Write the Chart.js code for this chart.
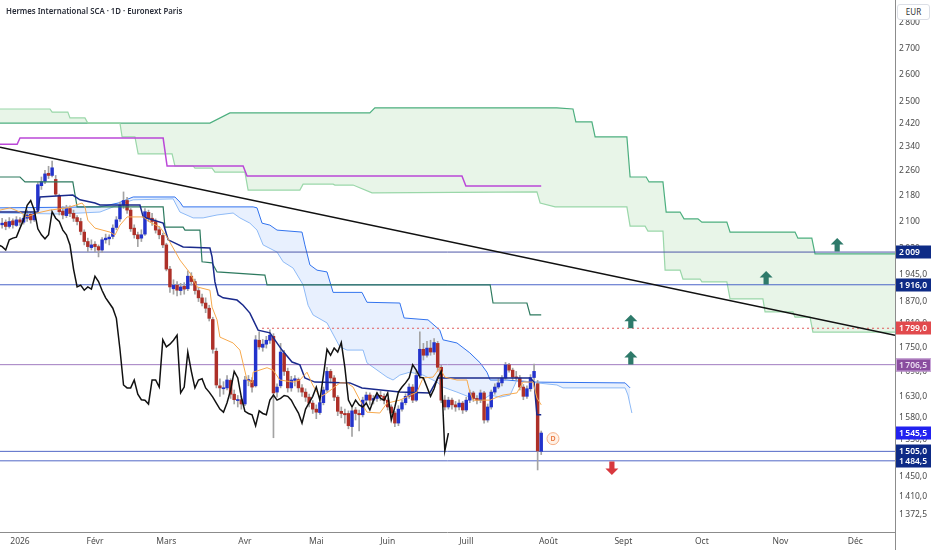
<!DOCTYPE html>
<html>
<head>
<meta charset="utf-8">
<script src="https://cdn.jsdelivr.net/npm/chart.js@4.4.1/dist/chart.umd.min.js"></script>
<style>
html, body { margin: 0; padding: 0; background: #fff; }
#wrap { position: relative; width: 932px; height: 550px; overflow: hidden; }
#title { position: absolute; left: 6px; top: 4px; font: 600 9.5px 'Noto Sans', sans-serif; color: #2a2e39;
  transform: scaleX(0.82); transform-origin: left top; white-space: nowrap; }
#cur { position: absolute; left: 897px; top: 4px; width: 31px; height: 14px; border: 1px solid #dcdfe6; border-radius: 3px;
  font: 8px 'Noto Sans', sans-serif; color: #333; text-align: center; line-height: 14px; background: #fff; }
</style>
</head>
<body>
<div id="wrap">
  <canvas id="c" width="932" height="550"></canvas>
  <div id="title">Hermes International SCA · 1D · Euronext Paris</div>
  <div id="cur">EUR</div>
</div>
<script>
// daily bars, x = trading-session index (0 = 2 Jan 2026)
var firstBar = -5;
var opens = [
  2090,2098,2085,2102,2088,2105,2098,2110,2122,2105,
  2135,2212,2226,2252,2245,2232,2180,2132,2118,2140,
  2125,2112,2100,2068,2040,2022,2032,2025,2015,2045,
  2048,2055,2082,2108,2150,2165,2135,2080,2060,2050,
  2062,2128,2110,2100,2075,2058,2030,1960,1905,1915,
  1900,1912,1905,1940,1925,1900,1880,1866,1852,1822,
  1740,1655,1648,1650,1668,1635,1620,1622,1612,1668,
  1668,1655,1768,1750,1758,1768,1778,1640,1655,1735,
  1690,1650,1668,1670,1650,1640,1628,1614,1600,1592,
  1615,1645,1690,1674,1628,1595,1590,1590,1560,1598,
  1590,1587,1621,1633,1621,1625,1632,1630,1621,1605,
  1591,1568,1600,1615,1630,1652,1621,1680,1745,1730,
  1748,1738,1760,1700,1621,1605,1621,1610,1605,1614,
  1598,1621,1638,1625,1621,1638,1575,1605,1640,1652,
  1662,1674,1706,1693,1676,1674,1652,1630,1648,1675,
  1660,1505
];
var highs = [
  2110,2105,2112,2108,2115,2112,2120,2135,2128,2140,
  2222,2240,2262,2275,2292,2245,2185,2145,2150,2148,
  2135,2118,2110,2075,2050,2045,2040,2030,2052,2062,
  2060,2090,2115,2160,2192,2175,2140,2090,2068,2075,
  2140,2135,2125,2108,2085,2065,2035,1968,1930,1925,
  1920,1922,1955,1950,1932,1908,1890,1880,1860,1828,
  1748,1672,1665,1680,1672,1645,1632,1630,1678,1680,
  1675,1780,1790,1770,1778,1795,1785,1660,1760,1742,
  1698,1678,1680,1674,1658,1648,1635,1620,1610,1625,
  1652,1700,1695,1680,1632,1605,1600,1596,1602,1604,
  1598,1628,1640,1638,1632,1640,1642,1636,1625,1610,
  1595,1608,1622,1636,1660,1658,1690,1790,1760,1765,
  1768,1772,1765,1705,1632,1628,1626,1618,1622,1618,
  1628,1645,1642,1632,1645,1642,1612,1645,1660,1672,
  1680,1712,1710,1698,1690,1680,1658,1655,1682,1708,
  1668,1550
];
var lows = [
  2080,2075,2080,2080,2085,2088,2092,2100,2095,2100,
  2130,2200,2218,2235,2240,2180,2120,2108,2112,2115,
  2100,2090,2060,2030,2010,2015,2010,1995,2008,2035,
  2030,2048,2075,2100,2140,2125,2070,2050,2025,2040,
  2058,2100,2088,2065,2048,2022,1955,1895,1890,1885,
  1888,1890,1900,1915,1890,1870,1858,1840,1818,1735,
  1650,1630,1635,1645,1625,1612,1605,1600,1608,1655,
  1640,1652,1745,1740,1748,1760,1535,1628,1650,1680,
  1640,1642,1655,1640,1630,1618,1605,1590,1578,1588,
  1610,1640,1662,1620,1585,1580,1568,1555,1538,1575,
  1550,1582,1612,1610,1612,1618,1620,1612,1598,1582,
  1560,1562,1595,1610,1625,1615,1618,1672,1718,1725,
  1730,1732,1690,1615,1598,1600,1600,1595,1598,1590,
  1594,1615,1618,1612,1615,1568,1570,1600,1635,1648,
  1655,1670,1688,1670,1668,1645,1622,1625,1642,1668,
  1465,1498
];
var closes = [
  2095,2085,2100,2090,2105,2098,2110,2120,2105,2125,
  2215,2225,2250,2245,2270,2185,2130,2120,2140,2125,
  2110,2100,2070,2040,2025,2030,2025,2015,2045,2050,
  2053,2080,2105,2150,2165,2135,2078,2060,2048,2060,
  2130,2110,2100,2074,2060,2030,1960,1910,1915,1901,
  1910,1904,1940,1925,1900,1880,1866,1852,1825,1745,
  1657,1650,1650,1669,1635,1622,1621,1612,1669,1669,
  1652,1769,1751,1758,1768,1781,1638,1652,1738,1690,
  1650,1669,1672,1650,1640,1628,1614,1600,1593,1615,
  1645,1690,1674,1628,1595,1590,1587,1562,1596,1590,
  1587,1621,1633,1621,1625,1632,1630,1621,1605,1591,
  1568,1600,1615,1630,1652,1621,1680,1745,1730,1748,
  1738,1762,1700,1621,1605,1621,1610,1605,1614,1598,
  1621,1638,1625,1621,1638,1575,1605,1640,1652,1662,
  1674,1706,1693,1676,1674,1652,1630,1648,1675,1690,
  1506,1545.5
];
var chikouShift = 26;

// ichimoku lines: [session, price]
var tenkan = [[-5.6,2135],[-2.8,2142],[0,2129],[2,2114],[4.8,2126],[8.4,2135],[13.2,2142],[17.4,2157],[18.2,2145],
  [19,2104],[21,2080],[25.2,2068],[26.6,2059],[28,2089],[30,2114],[34.5,2114],[36.4,2098],[39.2,2083],[41.2,2053],
  [44.8,1986],[47.6,1949],[49.6,1910],[53.2,1901],[53.8,1855],[55.2,1821],[56,1776],[59.7,1761],[61.6,1743],
  [63.6,1669],[65,1662],[65.3,1688],[69.2,1699],[70.9,1693],[72.8,1669],[76.5,1664],[78.4,1669],[80.4,1688],
  [82,1657],[84,1628],[86,1638],[89.6,1662],[91.6,1662],[93.3,1652],[95.2,1621],[97.2,1593],[100.8,1591],
  [102.8,1614],[106.4,1621],[111.2,1640],[112.9,1674],[115.7,1676],[117.6,1699],[119,1676],[122.4,1669],
  [125.2,1669],[126,1640],[126.9,1621],[131.7,1621],[133.6,1628],[135.3,1633],[139.2,1638],[140.9,1664],
  [143.7,1664],[144.8,1626],[146,1610]];
var kijun = [[-5.6,2129],[5,2129],[5.6,2176],[14.8,2182],[16.8,2167],[21,2157],[22.4,2151],[33.6,2151],[34.5,2114],
  [40.1,2095],[41.5,2045],[45.7,2024],[53.2,2021],[53.8,1995],[54.6,1924],[55.5,1888],[56.9,1880],[60.8,1874],
  [62.5,1860],[64.4,1839],[66.7,1794],[70,1787],[73.4,1743],[76.2,1713],[78.4,1706],[79.8,1674],[82.6,1664],
  [92.4,1662],[95.8,1650],[106.4,1640],[114.8,1638],[117.1,1674],[142.9,1674],[144,1664],[144.8,1587],[146,1587]];
var cloudA = [[-5.6,2142],[22.4,2145],[27.5,2157],[31.7,2176],[43.4,2176],[44.8,2160],[45.7,2145],[65.3,2145],
  [66.4,2142],[67.8,2095],[70,2089],[72,2074],[79,2068],[79.8,2030],[81.2,1972],[83.2,1957],[86,1952],[87.7,1895],
  [95.8,1895],[97.2,1868],[106.4,1866],[107.6,1826],[114.3,1821],[117.6,1794],[118.5,1769],[122.4,1761],[126,1736],
  [128.9,1711],[130.8,1688],[131.7,1669],[136.4,1669],[142.9,1664],[169.5,1662],[170.9,1650]];
var cloudB = [[-5.6,2126],[11.2,2123],[22.4,2129],[27.5,2151],[31.7,2167],[42.9,2170],[44.8,2129],[48.5,2111],
  [51.3,2111],[55.2,2120],[59.7,2126],[61.6,2111],[64.4,2095],[66.4,2074],[68.1,2030],[72,2009],[73.7,1981],
  [76.5,1963],[79.3,1916],[80.7,1860],[82.1,1834],[86,1813],[89.6,1751],[91.6,1743],[96.1,1743],[97.2,1711],
  [102.8,1676],[104.5,1669],[106.4,1681],[109.2,1688],[112.9,1681],[116.8,1664],[118.5,1652],[122.4,1640],
  [126,1628],[129.4,1621],[131.7,1633],[134.5,1628],[137.3,1633],[139.2,1669],[144.8,1662],[150.4,1657],
  [152.1,1650],[169.5,1650],[170.3,1633],[171.4,1591]];
// weekly cloud and lines
var weekA = [[-5.6,2422],[53.2,2422],[58.8,2458],[98,2458],[99.4,2476],[150.4,2476],[154.9,2472],[155.7,2426],
  [160.2,2426],[161.1,2374],[170,2374],[170.9,2240],[175.4,2240],[176.2,2224],[180.1,2224],[181,2129],[184.9,2129],
  [186,2108],[189.9,2108],[191,2098],[198,2098],[198.9,2068],[217.1,2068],[217.9,2050],[221.8,2050],[222.7,2004],
  [245.1,2004]];
var weekB = [[-5.6,2472],[8.4,2472],[9,2461],[13.4,2461],[14,2440],[18.2,2440],[19,2422],[28,2422],[28.6,2374],
  [32.2,2374],[33.1,2316],[42.6,2316],[43.4,2276],[48.5,2276],[49,2269],[53.8,2269],[54.6,2256],[63,2256],
  [63.9,2198],[78.4,2198],[79.3,2217],[87.7,2217],[88.2,2214],[93.3,2214],[98.6,2189],[144.8,2192],[145.7,2157],
  [149.9,2145],[170,2145],[170.9,2086],[175.1,2086],[175.9,2071],[180.1,2071],[180.7,1957],[184.9,1957],
  [185.7,1932],[190.5,1932],[191,1924],[198,1924],[198.9,1877],[208.1,1877],[208.7,1842],[216.5,1842],
  [217.1,1828],[221.3,1828],[222.1,1789],[245.1,1789]];
var weekKijun = [[-5.6,2240],[0,2240],[1.4,2224],[14.8,2224],[16,2145],[40.1,2145],[40.6,2083],[45.7,2083],
  [46.2,2074],[50.4,2074],[51,1981],[53.8,1978],[55.2,1952],[68.6,1943],[69.2,1916],[131.7,1916],[132.5,1866],
  [142,1866],[142.9,1834],[146,1834]];
var purpleLine = [[-5.6,2349],[-0.8,2349],[0,2370],[40.1,2370],[41.2,2276],[62.5,2276],[63.6,2243],[123.8,2243],
  [124.9,2211],[146,2211]];

// drawings
var trendLine = [[-5.6,2339],[245.1,1781]];
var levelPrices = [2009, 1916, 1706.5, 1505, 1484.5];
var levelColors = ['#4e58a8', '#4a64c8', '#a17cc0', '#5268c6', '#5268c6'];
var alertPrice = 1799, alertFrom = 67.8;
var upArrowBars = [171.1, 171.1, 209, 228.9];
var upArrowPrices = [1816, 1723, 1935, 2030];
var downArrowBars = [165.8];
var downArrowPrices = [1469];
var divBar = 149.3, divPrice = 1533;

// axes
var xMin = -5.6, xMax = 245.1, yMin = 1339, yMax = 2895;
var monthStarts = [0, 21, 41, 63, 83, 103, 125, 148, 169, 191, 213, 234];
var monthLabels = ['2026', 'Févr', 'Mars', 'Avr', 'Mai', 'Juin', 'Juill', 'Août', 'Sept', 'Oct', 'Nov', 'Déc'];
var yTicks = [2800, 2700, 2600, 2500, 2420, 2340, 2260, 2180, 2100, 2020, 1945, 1870, 1810, 1750, 1690, 1630,
  1580, 1530, 1450, 1410, 1372.5];
var tagPrices = [2009, 1916, 1799, 1706.5, 1545.5, 1505, 1484.5];
var tagColors = ['#0e2b86', '#0e2b86', '#e14a4d', '#8a4d9f', '#2222f0', '#0e2b86', '#0e2b86'];

var RED = '#ad3028', BLUE = '#2333cc', WICK = '#a3a3a3';

function fmt(v) {
	if (v >= 2000) return String(Math.round(v)).replace(/^(\d)(\d{3})$/, '$1\u2009$2');
	return v.toFixed(1).replace('.', ',').replace(/^(\d)(\d{3})/, '$1\u2009$2');
}

function pts(pairs) {
	return pairs.map(function(p){ return {x: p[0], y: p[1]}; });
}

function lineDs(pairs, color, width, order, extra) {
	var ds = {type: 'line', data: pts(pairs), borderColor: color, borderWidth: width, pointRadius: 0,
		fill: false, tension: 0, order: order};
	for (var k in (extra || {})) ds[k] = extra[k];
	return ds;
}

var bodies = [], wicks = [], candleColors = [], chikou = [];
closes.map(function(c, i){
	var x = firstBar + i;
	bodies.push({x: x, y: [opens[i], c]});
	wicks.push({x: x, y: [lows[i], highs[i]]});
	candleColors.push(c >= opens[i] ? BLUE : RED);
	chikou.push({x: x - chikouShift, y: c});
});

var datasets = [
	lineDs(weekA, '#4caf7f', 1.2, 31, {fill: '+1', backgroundColor: 'rgba(76,175,80,0.13)'}),
	lineDs(weekB, '#9ad7a9', 1.2, 30),
	lineDs(cloudA, '#3273ee', 1, 29, {fill: '+1', backgroundColor: 'rgba(66,133,244,0.12)'}),
	lineDs(cloudB, '#8ebaf6', 1, 28)
];
levelPrices.map(function(p, i){
	datasets.push(lineDs([[xMin, p], [xMax, p]], levelColors[i], 1, 25));
});
datasets.push(lineDs([[alertFrom, alertPrice], [xMax, alertPrice]], '#e05a5a', 1, 25, {borderDash: [2, 3]}));
datasets.push(lineDs(trendLine, '#111111', 1.5, 24));
datasets.push({type: 'bar', data: wicks, backgroundColor: WICK, barThickness: 1, grouped: false, order: 20});
datasets.push({type: 'bar', data: bodies, backgroundColor: candleColors, barThickness: 2.8, grouped: false,
	minBarLength: 1, order: 19});
datasets.push(lineDs(weekKijun, '#2d7a5f', 1.2, 10));
datasets.push(lineDs(purpleLine, '#bb48d8', 1.5, 9));
datasets.push(lineDs(kijun, '#1a2a8c', 1.5, 8));
datasets.push(lineDs(tenkan, '#f7a94d', 1, 7));
datasets.push({type: 'line', data: chikou, borderColor: '#111111', borderWidth: 1.5, pointRadius: 0, fill: false,
	tension: 0, order: 6});

function drawArrow(ctx, cx, cy, dir, color) {
	ctx.fillStyle = color;
	ctx.beginPath();
	ctx.moveTo(cx, cy - 7 * dir);
	ctx.lineTo(cx + 6.5, cy - 0.5 * dir);
	ctx.lineTo(cx + 2.6, cy - 0.5 * dir);
	ctx.lineTo(cx + 2.6, cy + 6.5 * dir);
	ctx.lineTo(cx - 2.6, cy + 6.5 * dir);
	ctx.lineTo(cx - 2.6, cy - 0.5 * dir);
	ctx.lineTo(cx - 6.5, cy - 0.5 * dir);
	ctx.closePath();
	ctx.fill();
}

var overlay = {
	id: 'overlay',
	afterDatasetsDraw: function(chart) {
		var ctx = chart.ctx, x = chart.scales.x, y = chart.scales.y;
		ctx.save();
		upArrowBars.map(function(b, i){
			drawArrow(ctx, x.getPixelForValue(b), y.getPixelForValue(upArrowPrices[i]), 1, '#2e7a6a');
		});
		downArrowBars.map(function(b, i){
			drawArrow(ctx, x.getPixelForValue(b), y.getPixelForValue(downArrowPrices[i]), -1, '#d8383e');
		});
		// dividend marker
		var dx = x.getPixelForValue(divBar), dy = y.getPixelForValue(divPrice);
		ctx.beginPath();
		ctx.arc(dx, dy, 6, 0, Math.PI * 2);
		ctx.fillStyle = '#fff1e6';
		ctx.fill();
		ctx.strokeStyle = '#f5b088';
		ctx.lineWidth = 1;
		ctx.stroke();
		ctx.fillStyle = '#e8743b';
		ctx.font = '600 7px "Noto Sans"';
		ctx.textAlign = 'center';
		ctx.textBaseline = 'middle';
		ctx.fillText('D', dx, dy + 0.5);
		ctx.restore();
	},
	afterDraw: function(chart) {
		var ctx = chart.ctx, area = chart.chartArea, y = chart.scales.y;
		ctx.save();
		ctx.strokeStyle = '#8c8c8c';
		ctx.lineWidth = 1;
		ctx.beginPath();
		ctx.moveTo(area.right + 0.5, 0);
		ctx.lineTo(area.right + 0.5, chart.height);
		ctx.moveTo(0, area.bottom + 0.5);
		ctx.lineTo(area.right, area.bottom + 0.5);
		ctx.stroke();

		ctx.font = '600 8.5px "Noto Sans"';
		ctx.textBaseline = 'middle';
		ctx.textAlign = 'left';
		tagPrices.map(function(p, i){
			var py = Math.round(y.getPixelForValue(p));
			ctx.fillStyle = tagColors[i];
			ctx.fillRect(area.right + 1, py - 6.5, chart.width - area.right - 2, 13);
			if (p === 1706.5) {
				ctx.strokeStyle = '#c9a6d8';
				ctx.strokeRect(area.right + 1.5, py - 6, chart.width - area.right - 3, 12);
			}
			ctx.fillStyle = p === 1706.5 ? '#eadcf0' : '#ffffff';
			ctx.fillText(fmt(p), area.right + 4, py + 0.5);
		});
		ctx.restore();
	}
};

var tickFont = {family: 'Noto Sans', size: 8.5};

new Chart(document.getElementById('c'), {
	type: 'line',
	data: {datasets: datasets},
	options: {
		responsive: false,
		animation: false,
		layout: {padding: 0},
		plugins: {legend: {display: false}, tooltip: {enabled: false}},
		scales: {
			x: {
				type: 'linear', min: xMin, max: xMax, bounds: 'data', offset: false,
				grid: {display: false, drawTicks: false}, border: {display: false},
				afterBuildTicks: function(s){ s.ticks = monthStarts.map(function(v){ return {value: v}; }); },
				afterFit: function(s){ s.height = 18; s.paddingLeft = 0; s.paddingRight = 0; },
				ticks: {
					autoSkip: false, maxRotation: 0, padding: 4, color: '#4b4b4b', font: tickFont,
					callback: function(v){ var k = monthStarts.indexOf(v); return k < 0 ? '' : monthLabels[k]; }
				}
			},
			y: {
				type: 'logarithmic', position: 'right', min: yMin, max: yMax, bounds: 'data',
				grid: {display: false, drawTicks: false}, border: {display: false},
				afterBuildTicks: function(s){ s.ticks = yTicks.map(function(v){ return {value: v}; }); },
				afterFit: function(s){ s.width = 37; s.paddingTop = 0; s.paddingBottom = 0; },
				ticks: {
					autoSkip: false, padding: 4, color: '#4b4b4b', font: tickFont,
					callback: function(v){ return fmt(v); }
				}
			}
		}
	},
	plugins: [overlay]
});
</script>
</body>
</html>
